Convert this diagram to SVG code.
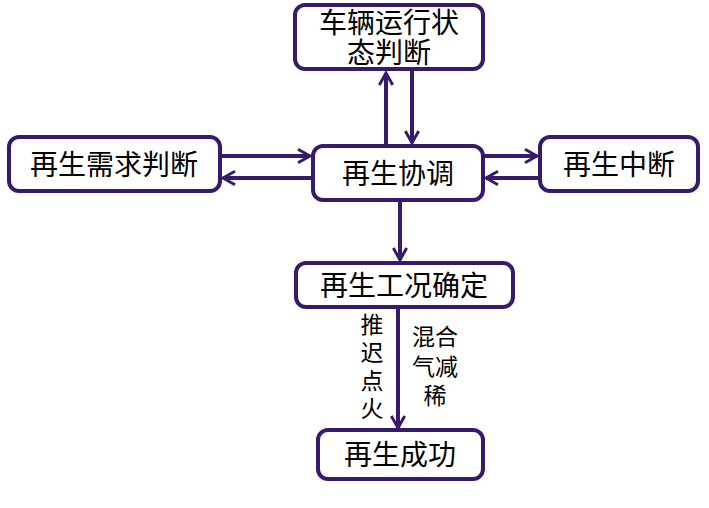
<svg xmlns="http://www.w3.org/2000/svg" width="709" height="508" viewBox="0 0 709 508">
<style>
.box{fill:#fff;stroke:#381a6c;stroke-width:4}
.t{font-family:"Liberation Serif","Noto Sans CJK SC",serif;font-size:28px;fill:#000;text-anchor:middle}
.l{font-family:"Liberation Serif","Noto Sans CJK SC",serif;font-size:23px;fill:#000;text-anchor:middle}
.c{stroke:#381a6c;stroke-width:4;fill:none;marker-end:url(#a)}
</style>
<defs>
<marker id="a" viewBox="0 0 12 12" refX="10" refY="6" markerWidth="4" markerHeight="4" orient="auto" markerUnits="strokeWidth">
<path d="M1,1 L10,6 L1,11" fill="none" stroke="#381a6c" stroke-width="2.2"/>
</marker>
</defs>
<g id="connectors">
<line class="c" x1="386" y1="146" x2="386" y2="73"/>
<line class="c" x1="412" y1="70" x2="412" y2="143"/>
<line class="c" x1="220" y1="156" x2="310" y2="156"/>
<line class="c" x1="313" y1="178" x2="223" y2="178"/>
<line class="c" x1="483" y1="156" x2="537" y2="156"/>
<line class="c" x1="540" y1="178" x2="486" y2="178"/>
<line class="c" x1="400" y1="200" x2="400" y2="260"/>
<line class="c" x1="398" y1="307" x2="398" y2="428"/>
</g>
<g id="n1"><rect class="box" x="295" y="5" width="188" height="64" rx="10"/>
<text class="t" x="389" y="33">车辆运行状</text><text class="t" x="389" y="63">态判断</text></g>
<g id="n2"><rect class="box" x="9" y="137" width="211" height="54" rx="10"/>
<text class="t" x="114" y="175">再生需求判断</text></g>
<g id="n3"><rect class="box" x="313" y="146" width="170" height="54" rx="10"/>
<text class="t" x="398" y="184">再生协调</text></g>
<g id="n4"><rect class="box" x="540" y="137" width="158" height="54" rx="10"/>
<text class="t" x="619" y="175">再生中断</text></g>
<g id="n5"><rect class="box" x="296" y="263" width="217" height="44" rx="10"/>
<text class="t" x="404" y="296">再生工况确定</text></g>
<g id="n6"><rect class="box" x="318" y="430" width="165" height="49" rx="10"/>
<text class="t" x="400" y="465">再生成功</text></g>
<g id="labels">
<text class="l" x="372" y="333">推</text>
<text class="l" x="372" y="361">迟</text>
<text class="l" x="372" y="389">点</text>
<text class="l" x="372" y="417">火</text>
<text class="l" x="435" y="345">混合</text>
<text class="l" x="435" y="375">气减</text>
<text class="l" x="435" y="404">稀</text>
</g>
</svg>
